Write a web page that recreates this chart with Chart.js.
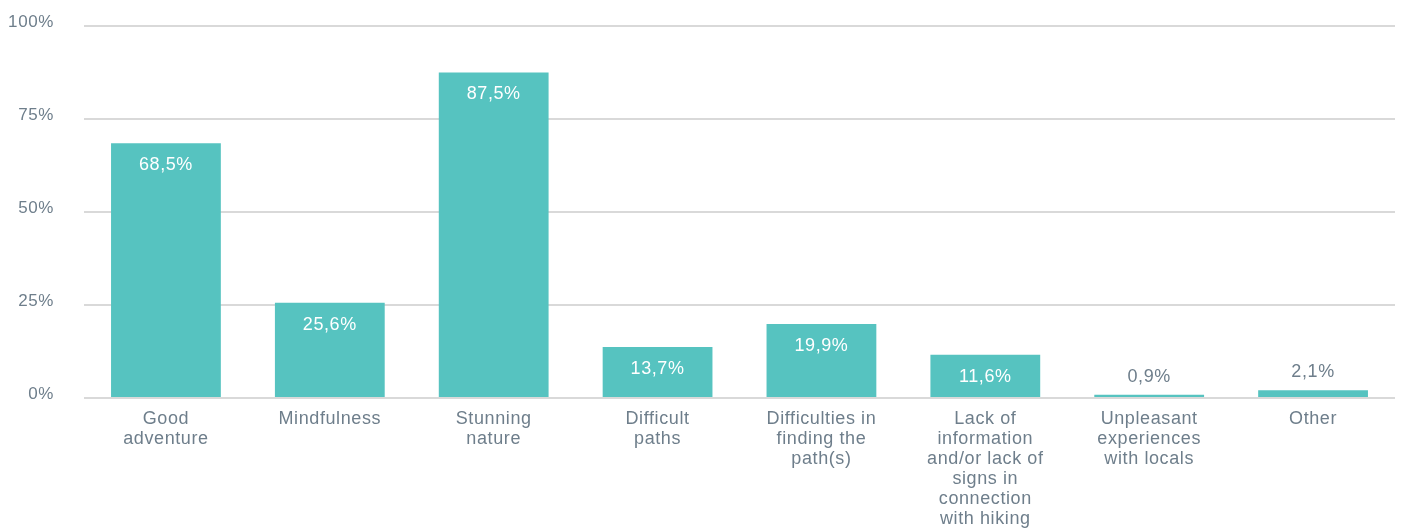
<!DOCTYPE html>
<html>
<head>
<meta charset="utf-8">
<script src="https://cdn.jsdelivr.net/npm/chart.js@4.4.1/dist/chart.umd.min.js"></script>
<style>
  html, body { margin: 0; padding: 0; background: #fff; }
  #wrap { width: 1404px; height: 529px; }
</style>
</head>
<body>
<div id="wrap"><canvas id="c"></canvas></div>
<script>
const categories = [
  ['Good', 'adventure'],
  ['Mindfulness'],
  ['Stunning', 'nature'],
  ['Difficult', 'paths'],
  ['Difficulties in', 'finding the', 'path(s)'],
  ['Lack of', 'information', 'and/or lack of', 'signs in', 'connection', 'with hiking'],
  ['Unpleasant', 'experiences', 'with locals'],
  ['Other']
]
const shares = [68.5, 25.6, 87.5, 13.7, 19.9, 11.6, 0.9, 2.1]
const yTicks = [0, 25, 50, 75, 100]

const textGray = '#6e7e8b'
const barColor = '#56c3c0'
const family = 'Liberation Sans, Arial, sans-serif'
const spacing = '0.6px'

const fmt = (v) => v.toFixed(1).replace('.', ',') + '%'

// slightly wider letters like the original
const letterSpacing = {
  id: 'letterSpacing',
  beforeLayout(chart) { chart.ctx.letterSpacing = spacing },
  beforeDraw(chart) { chart.ctx.letterSpacing = spacing }
}

const valueLabels = {
  id: 'valueLabels',
  afterDatasetsDraw(chart) {
    const ctx = chart.ctx
    const meta = chart.getDatasetMeta(0)
    ctx.save()
    ctx.font = '18px ' + family
    ctx.textAlign = 'center'
    ctx.textBaseline = 'middle'
    meta.data.forEach((bar, i) => {
      const v = shares[i]
      if (v > 5) {
        ctx.fillStyle = '#ffffff'
        ctx.fillText(fmt(v), bar.x, bar.y + 22)
      } else {
        ctx.fillStyle = textGray
        ctx.fillText(fmt(v), bar.x, bar.y - 18)
      }
    })
    ctx.restore()
  }
}

new Chart(document.getElementById('c'), {
  type: 'bar',
  data: {
    labels: categories,
    datasets: [{
      data: shares,
      backgroundColor: barColor,
      barPercentage: 0.67,
      categoryPercentage: 1
    }]
  },
  options: {
    responsive: true,
    maintainAspectRatio: false,
    animation: false,
    layout: { autoPadding: false, padding: { top: 26, right: 9, left: 0, bottom: 0 } },
    plugins: {
      legend: { display: false },
      tooltip: { enabled: false }
    },
    scales: {
      y: {
        min: 0,
        max: 100,
        afterFit(scale) {
          scale.width = 84
          // tick padding would otherwise push the plot down
          scale.paddingTop = 0
          scale.paddingBottom = 0
        },
        afterBuildTicks(scale) { scale.ticks = yTicks.map(v => ({ value: v })) },
        border: { display: false },
        grid: { color: '#d9d9d9', lineWidth: 2, drawTicks: false },
        ticks: {
          color: textGray,
          // empty second line lifts the label a few px above its gridline
          font: { family: family, size: 17, lineHeight: '8px' },
          padding: 30,
          callback: (v) => [v + '%', '']
        }
      },
      x: {
        afterFit(scale) { scale.height = 131 },
        border: { display: false },
        grid: { display: false },
        ticks: {
          color: textGray,
          font: { family: family, size: 18, lineHeight: 1.11 },
          padding: 3,
          maxRotation: 0,
          autoSkip: false
        }
      }
    }
  },
  plugins: [letterSpacing, valueLabels]
})
</script>
</body>
</html>
